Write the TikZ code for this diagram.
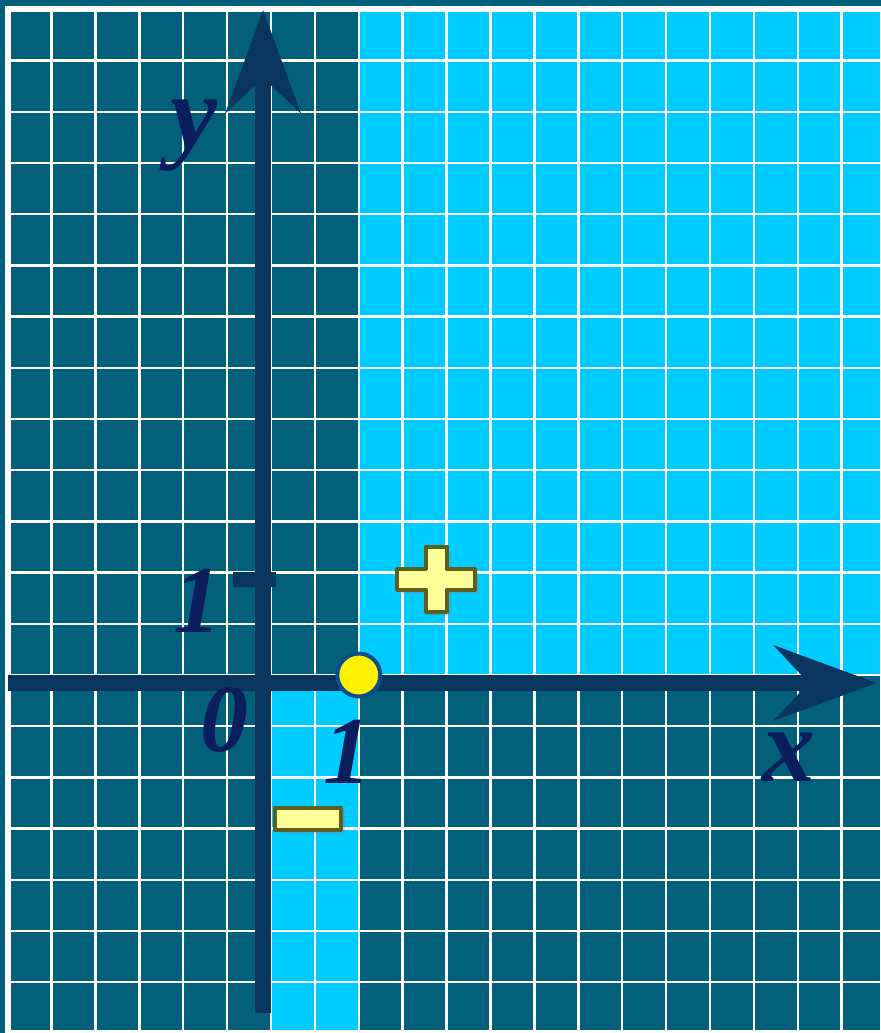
\documentclass[tikz,border=0pt]{standalone}
\usepackage{fontspec}
\setmainfont{Liberation Serif}
\usepackage{tikz}
\usetikzlibrary{arrows.meta}
\usetikzlibrary{shadows}

\definecolor{cellDark}{HTML}{03607B}
\definecolor{cellLight}{HTML}{00CCFF}
\definecolor{axisBlue}{HTML}{09355F}
\definecolor{labelBlue}{HTML}{0A1E5E}
\definecolor{signYellow}{HTML}{FFFF99}
\definecolor{signOlive}{HTML}{5E5E1F}
\definecolor{dotBlue}{HTML}{0E4C8C}

\begin{document}
\begin{tikzpicture}[x=43.9pt,y=51.2pt]
  \tikzset{gridline/.style = {draw=white,line width=2.5pt}}
  \tikzset{axis/.style = {draw=axisBlue,line width=16pt,-{Stealth[length=102pt,width=74pt,inset=34pt]}}}
  \tikzset{lbl/.style = {text=labelBlue,inner sep=0pt,font=\bfseries\itshape\fontsize{96}{96}\selectfont}}
  \tikzset{letter/.style = {lbl,font=\bfseries\itshape\fontsize{106}{106}\selectfont}}
  \tikzset{sign/.style = {fill=signYellow,draw=signOlive,line width=4pt,line join=round,
      drop shadow={opacity=0.3,shadow xshift=4pt,shadow yshift=-4pt}}}

  \useasboundingbox (-6.173,-6.992) rectangle (13.895,13.184);

  % frame
  \fill[white] (-6.173,-6.992) rectangle (13.895,13.184);
  \fill[cellDark] (-6.173,-6.992) rectangle (-6.06,13.184);
  \fill[cellDark] (-6.173,13.067) rectangle (13.895,13.184);

  % cells
  \fill[cellDark] (-5.92,-6.93) rectangle (13.87,12.95);
  \fill[cellLight] (2,0) rectangle (13.87,12.95);
  \fill[cellLight] (0,-6.93) rectangle (2,0);
  \foreach \i in {-5,...,13}
    \draw[gridline] (\i,-6.93) -- (\i,12.95);
  \foreach \j in {-6,...,12}
    \draw[gridline] (-5.92,\j) -- (13.87,\j);

  % axes
  \coordinate (xstart) at (-5.99,-0.156);
  \coordinate (xend) at (13.80,-0.156);
  \coordinate (ystart) at (-0.18,-6.6);
  \coordinate (yend) at (-0.18,12.99);
  \draw[axis] (xstart) -- (xend);
  \draw[axis] (ystart) -- (yend);
  \coordinate (tickL) at (-0.866,1.865);
  \coordinate (tickR) at (0.114,1.865);
  \draw[axisBlue,line width=15pt] (tickL) -- (tickR);

  % labels
  \node[letter] (ylab) at (-1.754,10.53) {y};
  \node[letter] (xlab) at (11.80,-1.60) {x};
  \node[lbl] (yone) at (-1.663,1.445) {1};
  \node[lbl] (zero) at (-1.048,-0.879) {0};
  \node[lbl] (xone) at (1.754,-1.504) {1};

  % point and signs
  \node[circle,fill=yellow,draw=dotBlue,line width=4pt,minimum size=43pt,inner sep=0pt] (dot) at (2,0) {};
  \node[sign,minimum width=66pt,minimum height=22pt,inner sep=0pt] (minus) at (0.843,-2.8125) {};
  \coordinate (plus) at (3.759,1.875);
  \begin{scope}[shift={(plus)},x=1pt,y=1pt]
    \draw[sign] (-39,-10.5) -- (-10.5,-10.5) -- (-10.5,-32.5) -- (10.5,-32.5) -- (10.5,-10.5)
      -- (39,-10.5) -- (39,10.5) -- (10.5,10.5) -- (10.5,32.5) -- (-10.5,32.5) -- (-10.5,10.5)
      -- (-39,10.5) -- cycle;
  \end{scope}
\end{tikzpicture}
\end{document}
